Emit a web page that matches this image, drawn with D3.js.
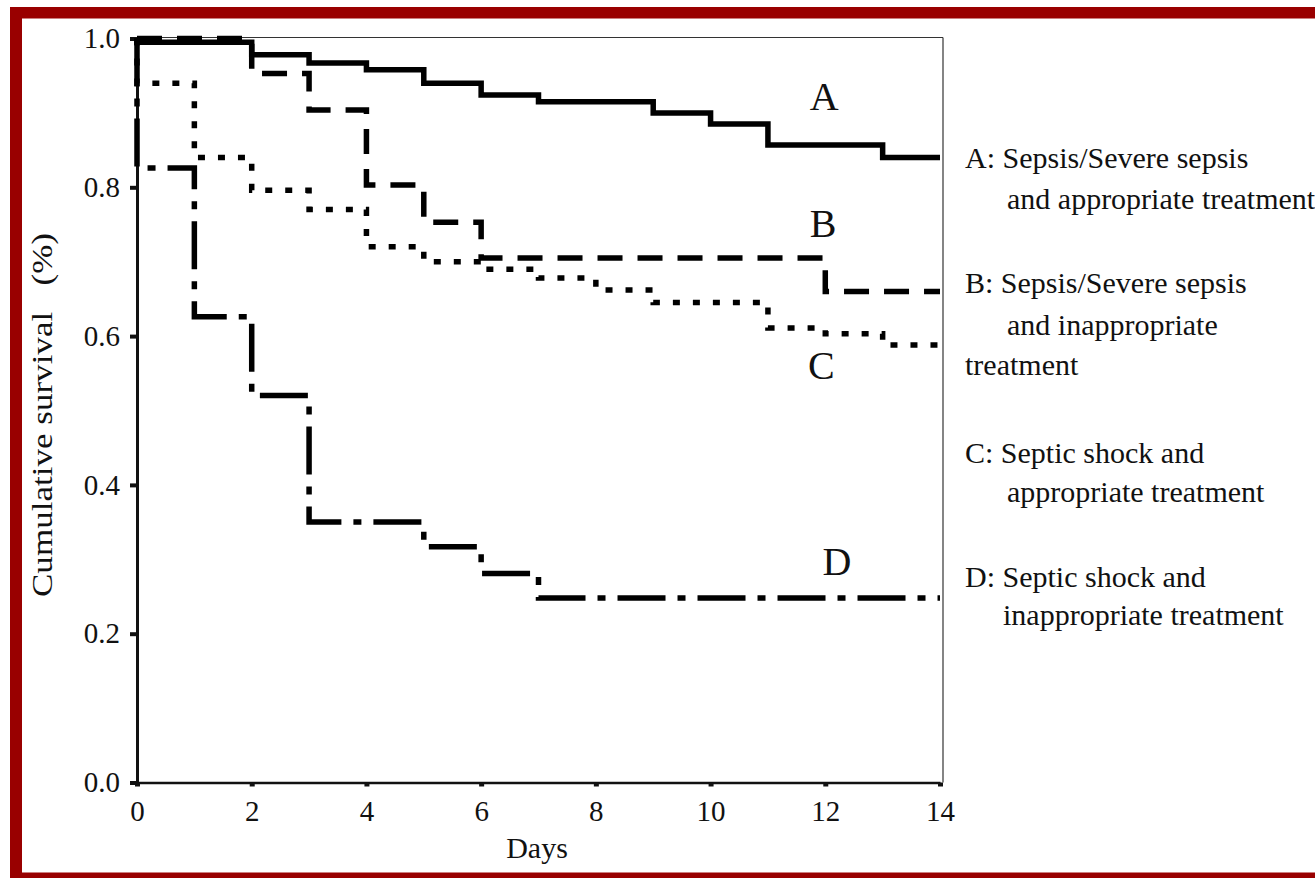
<!DOCTYPE html>
<html lang="en">
<head>
<meta charset="utf-8">
<title>Cumulative survival</title>
<script src="https://cdn.jsdelivr.net/npm/d3@7"></script>
<style>
  body { margin: 0; background: #fff; }
  svg text { font-family: "Liberation Serif", "Times New Roman", serif; fill: #111; }
  .axis path, .axis line { stroke: #111; }
</style>
</head>
<body>
<script>
// Kaplan-Meier steps
var daysA = [0, 0, 2, 3, 4, 5, 6, 7, 9, 10, 11, 13, 14];
var survA = [1.0, 0.995, 0.978, 0.967, 0.958, 0.94, 0.924, 0.915, 0.90, 0.885, 0.857, 0.84, 0.84];

var daysB = [0, 2, 3, 4, 5, 6, 12, 14];
var survB = [1.0, 0.953, 0.904, 0.803, 0.753, 0.705, 0.66, 0.66];

var daysC = [0, 0, 1, 2, 3, 4, 5, 6, 7, 8, 9, 11, 12, 13, 14];
var survC = [1.0, 0.94, 0.84, 0.796, 0.77, 0.72, 0.70, 0.69, 0.678, 0.662, 0.645, 0.611, 0.603, 0.588, 0.588];

var daysD = [0, 0, 1, 2, 3, 5, 6, 7, 14];
var survD = [1.0, 0.826, 0.626, 0.52, 0.35, 0.317, 0.281, 0.248, 0.248];

var xTicks = [0, 2, 4, 6, 8, 10, 12, 14];
var yTicks = [0, 0.2, 0.4, 0.6, 0.8, 1.0];

var curveNames = ["A", "B", "C", "D"];
var nameDay = [11.73, 11.73, 11.7, 11.95];
var nameSurv = [0.904, 0.733, 0.543, 0.279];

var legendLines = [
  "A: Sepsis/Severe sepsis", "and appropriate treatment",
  "B: Sepsis/Severe sepsis", "and inappropriate", "treatment",
  "C: Septic shock and", "appropriate treatment",
  "D: Septic shock and", "inappropriate treatment"
];

var w = 1315, h = 878;
var svg = d3.select("body").append("svg").attr("width", w).attr("height", h);

var x = d3.scaleLinear().domain([0, 14]).range([137, 940]);
var y = d3.scaleLinear().domain([0, 1]).range([782.5, 38.5]);

// thin frame on top and right
svg.append("line").attr("x1", x(0)).attr("x2", x(14) + 3).attr("y1", y(1) - 1).attr("y2", y(1) - 1)
  .attr("stroke", "#333").attr("stroke-width", 1.2);
svg.append("line").attr("x1", x(14) + 3).attr("x2", x(14) + 3).attr("y1", y(1) - 1).attr("y2", y(0))
  .attr("stroke", "#333").attr("stroke-width", 1.2);

// axes
var yAxis = d3.axisLeft(y).tickValues(yTicks).tickFormat(d3.format(".1f")).tickSize(7).tickSizeOuter(0).tickPadding(10);
var xAxis = d3.axisBottom(x).tickValues(xTicks).tickFormat(d3.format("d")).tickSize(4).tickSizeOuter(0).tickPadding(14);

var gy = svg.append("g").attr("class", "axis").attr("transform", "translate(" + x(0) + ",0)").call(yAxis);
gy.select(".domain").attr("stroke-width", 3);
gy.selectAll(".tick line").attr("stroke-width", 4);
gy.selectAll(".tick text").style("font-size", "29px").attr("fill", "#111");

var gx = svg.append("g").attr("class", "axis").attr("transform", "translate(0," + y(0) + ")").call(xAxis);
gx.select(".domain").attr("stroke-width", 2.5);
gx.selectAll(".tick line").attr("stroke-width", 5);
gx.selectAll(".tick text").style("font-size", "29px").attr("fill", "#111");

// curves
var line = d3.line().x(function(d){ return x(d[0]); }).y(function(d){ return y(d[1]); }).curve(d3.curveStepAfter);

function pts(days, surv) { return days.map(function(d, i){ return [d, surv[i]]; }); }

var curves = [
  { p: pts(daysD, survD), dash: "48,12,8,12" },
  { p: pts(daysC, survC), dash: "7,13" },
  { p: pts(daysB, survB), dash: "25,15" },
  { p: pts(daysA, survA), dash: null }
];

svg.selectAll("path.km").data(curves).enter().append("path")
  .attr("class", "km")
  .attr("d", function(c){ return line(c.p); })
  .attr("fill", "none")
  .attr("stroke", "#000")
  .attr("stroke-width", 5.5)
  .attr("stroke-dasharray", function(c){ return c.dash; });

// curve letters
svg.selectAll("text.name").data(curveNames).enter().append("text")
  .attr("class", "name")
  .attr("x", function(d, i){ return x(nameDay[i]); })
  .attr("y", function(d, i){ return y(nameSurv[i]); })
  .style("font-size", "40px")
  .text(function(d){ return d; });

// axis titles
svg.append("text").attr("x", 537).attr("y", 858).style("font-size", "30px").attr("text-anchor", "middle").text("Days");
svg.append("text")
  .attr("transform", "translate(52,597) rotate(-90)")
  .attr("x", 0).attr("y", 0)
  .attr("textLength", 364).attr("lengthAdjust", "spacingAndGlyphs")
  .style("font-size", "29px")
  .style("white-space", "pre")
  .text("Cumulative survival   (%)");

// legend
var legendX = [965, 1007, 965, 1007, 965, 965, 1007, 965, 1003];
var legendY = [168, 209, 293, 335, 375, 463, 502, 587, 625];
svg.selectAll("text.leg").data(legendLines).enter().append("text")
  .attr("class", "leg")
  .attr("x", function(d, i){ return legendX[i]; })
  .attr("y", function(d, i){ return legendY[i]; })
  .style("font-size", "30px")
  .text(function(d){ return d; });

// dark red frame
var red = "#990000";
svg.append("rect").attr("x", 10).attr("y", 7).attr("width", w - 10).attr("height", 11.5).attr("fill", red);
svg.append("rect").attr("x", 10).attr("y", 7).attr("width", 12).attr("height", h - 7).attr("fill", red);
svg.append("rect").attr("x", 10).attr("y", 872.5).attr("width", w - 10).attr("height", 6).attr("fill", red);
</script>
</body>
</html>
